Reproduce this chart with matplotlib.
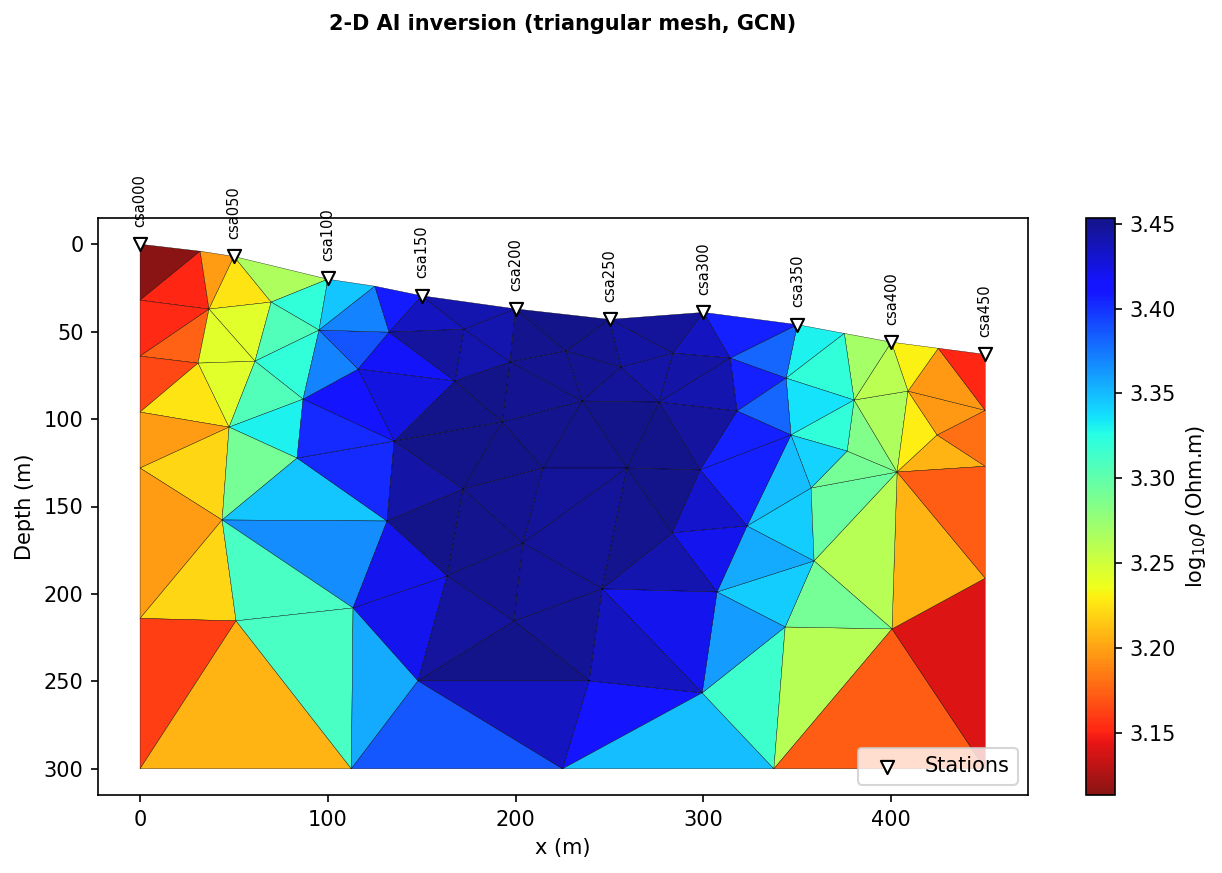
import numpy as np
import matplotlib
matplotlib.use('Agg')
import matplotlib.pyplot as plt
import matplotlib.tri as mtri

# station positions along the profile
station_names = ['csa000', 'csa050', 'csa100', 'csa150', 'csa200',
                 'csa250', 'csa300', 'csa350', 'csa400', 'csa450']
station_x = [0, 50, 100, 150, 200, 250, 300, 350, 400, 450]
station_z = [0, 7, 19.5, 29.5, 37, 43, 39, 46, 56, 63]

# mesh nodes: surface, left side, bottom, right side, then interior
node_x = [0, 32, 50, 100, 125, 150, 200, 250, 300, 350, 375, 400, 425, 450,
          0, 0, 0, 0, 0,
          0, 112.5, 225, 337.5, 450,
          450, 450, 450,
          36.7, 69.8, 95.3, 132.6, 30.9, 61.2, 116.1, 86.8, 47.4, 135.3, 83.6,
          43.7, 131.5, 113.4, 51.1, 148, 163.5, 199.1, 203.9,
          172.5, 197, 226.8, 256.1, 283.8, 167.7, 235.4, 276.4, 192.8, 214.6, 259.3, 298.2, 172,
          314.2, 344, 317.9, 380.2, 408.9, 346.6, 424.4, 376.5, 403.1, 357.3, 323.2, 358.9,
          307.2, 343.5, 400.4, 299.3, 246, 283.3, 239.1]
node_z = [0, 4, 7, 20, 24, 29.5, 37, 43, 39, 46, 51, 56, 59.5, 63,
          32, 64, 96, 128, 214,
          300, 300, 300, 300, 300,
          95, 127, 191,
          37.1, 33.1, 49.1, 50.3, 68, 66.9, 71.4, 88.6, 104.6, 112.6, 122.3,
          157.7, 158.3, 208, 215.4, 249.7, 189.7, 215.4, 170.9,
          48.6, 67.4, 61.1, 70.3, 62.3, 78.3, 89.7, 90.3, 101.7, 128, 128, 129.1, 140,
          65.1, 76.6, 95.4, 89.1, 84, 109.1, 109.1, 118.3, 130.3, 139.4, 161.1, 181.1,
          198.9, 218.9, 220, 256.6, 197.1, 165.1, 249.7]

triangles = [
    [0, 1, 14], [1, 14, 27], [1, 2, 27], [2, 27, 28], [2, 3, 28], [14, 15, 27], [15, 27, 31],
    [27, 28, 32], [27, 31, 32], [15, 16, 31], [16, 31, 35], [31, 32, 35], [16, 17, 35],
    [17, 35, 38], [17, 18, 38], [18, 38, 41], [18, 19, 41], [19, 20, 41],
    [28, 3, 29], [28, 29, 32], [29, 32, 34], [32, 34, 35], [34, 35, 37], [35, 37, 38],
    [37, 38, 39], [38, 39, 40], [38, 40, 41], [40, 41, 20], [20, 40, 42], [20, 21, 42],
    [21, 42, 77], [21, 77, 74], [21, 22, 74], [22, 74, 72], [22, 72, 73], [22, 73, 23],
    [23, 73, 26], [26, 73, 67], [67, 73, 70], [70, 72, 73], [71, 70, 72], [71, 72, 74],
    [69, 70, 71], [68, 69, 70], [68, 70, 67], [66, 67, 68], [62, 66, 67], [62, 63, 67],
    [63, 65, 67], [65, 67, 25], [67, 25, 26], [65, 24, 25], [63, 24, 65], [63, 12, 24],
    [12, 13, 24], [11, 12, 63], [11, 62, 63], [10, 11, 62], [9, 10, 60], [10, 60, 62],
    [60, 62, 64], [62, 64, 66], [64, 66, 68], [64, 68, 69], [9, 59, 60], [8, 9, 59],
    [59, 60, 61], [60, 61, 64], [61, 64, 57], [57, 64, 69], [57, 69, 76], [69, 76, 71],
    [75, 76, 71], [75, 71, 74], [75, 74, 77], [44, 75, 77], [42, 44, 77], [40, 42, 43],
    [42, 43, 44], [39, 40, 43], [36, 37, 39], [34, 36, 37], [33, 34, 36], [29, 33, 34],
    [29, 30, 33], [3, 4, 29], [4, 29, 30], [4, 5, 30], [30, 33, 51], [33, 36, 51],
    [5, 30, 46], [5, 6, 46], [30, 46, 51], [46, 47, 51], [6, 46, 47], [6, 47, 48],
    [6, 7, 48], [7, 48, 49], [7, 8, 50], [7, 49, 50], [47, 48, 52], [48, 49, 52],
    [49, 52, 53], [49, 50, 53], [8, 50, 59], [50, 53, 59], [53, 59, 61], [53, 61, 57],
    [53, 56, 57], [52, 53, 56], [52, 55, 56], [54, 52, 55], [47, 52, 54], [47, 51, 54],
    [51, 36, 54], [36, 54, 58], [54, 55, 58], [36, 39, 58], [39, 58, 43], [58, 43, 45],
    [58, 45, 55], [45, 55, 56], [45, 56, 75], [56, 75, 76], [56, 57, 76], [43, 44, 45],
    [44, 45, 75],
]

# log10 resistivity of each triangle, same order as above
log_rho = [
    3.114, 3.151, 3.198, 3.226, 3.265, 3.152, 3.175,
    3.243, 3.243, 3.165, 3.225, 3.243, 3.198,
    3.220, 3.198, 3.220, 3.160, 3.207,
    3.321, 3.306, 3.321, 3.306, 3.331, 3.291,
    3.346, 3.366, 3.311, 3.311, 3.356, 3.386,
    3.436, 3.416, 3.349, 3.316, 3.262, 3.172,
    3.141, 3.207, 3.262, 3.291, 3.344, 3.361,
    3.356, 3.344, 3.296, 3.291, 3.286, 3.265,
    3.230, 3.207, 3.172, 3.180, 3.197, 3.197,
    3.151, 3.231, 3.260, 3.270, 3.331, 3.321,
    3.336, 3.321, 3.341, 3.349, 3.381, 3.406,
    3.406, 3.381, 3.406, 3.406, 3.431, 3.421,
    3.441, 3.421, 3.436, 3.449, 3.453, 3.421,
    3.446, 3.421, 3.402, 3.402, 3.410, 3.371,
    3.387, 3.346, 3.371, 3.407, 3.417, 3.425,
    3.436, 3.441, 3.446, 3.441, 3.441, 3.452,
    3.453, 3.450, 3.447, 3.445, 3.450, 3.450,
    3.447, 3.443, 3.436, 3.443, 3.441, 3.446,
    3.453, 3.453, 3.451, 3.451, 3.450, 3.453,
    3.453, 3.453, 3.453, 3.443, 3.453, 3.451,
    3.450, 3.447, 3.447, 3.451, 3.453, 3.450,
    3.447,
]

fig = plt.figure(figsize=(1222 / 150, 873 / 150), dpi=150)
ax = fig.add_axes([98 / 1222, 1 - 795 / 873, 930 / 1222, 577 / 873])
cax = fig.add_axes([1086 / 1222, 1 - 795 / 873, 29 / 1222, 577 / 873])

tri = mtri.Triangulation(node_x, node_z, triangles)
pc = ax.tripcolor(tri, facecolors=np.array(log_rho), cmap='jet_r', vmin=3.1134, vmax=3.4534,
                  alpha=0.92, edgecolors='k', linewidth=0.18)

ax.scatter(station_x, station_z, marker='v', s=40, facecolors='white', edgecolors='k',
           zorder=5, clip_on=False, label='Stations')
for name, sx, sz in zip(station_names, station_x, station_z):
    ax.annotate(name, (sx, sz), xytext=(0, 8.4), textcoords='offset points', rotation=90,
                ha='center', va='bottom', fontsize=7, annotation_clip=False)

ax.set_xlim(-22.4, 472.8)
ax.set_ylim(315, -15)
ax.set_xlabel('x (m)')
ax.set_ylabel('Depth (m)')
ax.legend(loc='lower right')

cbar = fig.colorbar(pc, cax=cax)
cbar.set_label(r'log$_{10}\rho$ (Ohm.m)')

fig.text(563 / 1222, 1 - 24 / 873, '2-D AI inversion (triangular mesh, GCN)', ha='center', va='center',
         fontsize=10, fontweight='bold')

fig.savefig('out.png', dpi=150)
